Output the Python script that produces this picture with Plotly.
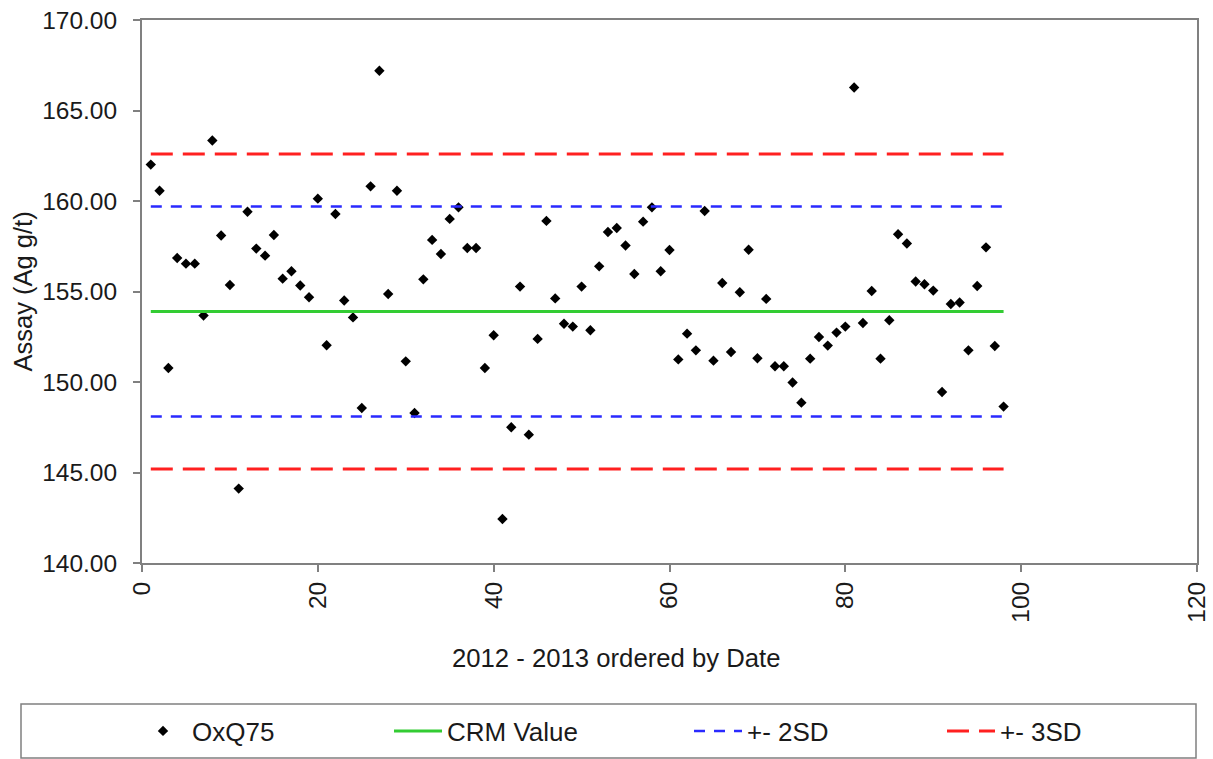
import plotly.graph_objects as go

# ---- data ----
sample_index = list(range(1, 99))
oxq75_values = [
    162.01, 160.57, 150.77, 156.85, 156.54, 156.54, 153.67, 163.34, 158.09, 155.36,
    144.11, 159.41, 157.37, 156.98, 158.12, 155.71, 156.12, 155.33, 154.68, 160.13,
    152.03, 159.28, 154.50, 153.57, 148.56, 160.81, 167.20, 154.86, 160.57, 151.14,
    148.29, 155.67, 157.85, 157.07, 159.01, 159.65, 157.40, 157.40, 150.77, 152.58,
    142.43, 147.50, 155.27, 147.09, 152.38, 158.90, 154.62, 153.22, 153.06, 155.27,
    152.86, 156.39, 158.29, 158.51, 157.54, 155.97, 158.86, 159.65, 156.12, 157.29,
    151.25, 152.67, 151.75, 159.45, 151.18, 155.47, 151.66, 154.96, 157.31, 151.31,
    154.59, 150.87, 150.87, 149.97, 148.86, 151.29, 152.49, 152.01, 152.73, 153.06,
    166.27, 153.26, 155.03, 151.29, 153.41, 158.16, 157.65, 155.55, 155.40, 155.05,
    149.45, 154.31, 154.39, 151.75, 155.30, 157.44, 151.99, 148.64,
]
crm_value = 153.9
sd = 2.9
line_x = [1, 98]
x_ticks = [0, 20, 40, 60, 80, 100, 120]
y_ticks = [140, 145, 150, 155, 160, 165, 170]

FONT = "Liberation Sans, Arial, sans-serif"
GREY = "#808080"
TXT = "#1a1a1a"

fig = go.Figure()

fig.add_trace(go.Scatter(
    x=sample_index, y=oxq75_values, mode="markers", name="OxQ75",
    marker=dict(symbol="diamond", size=8, color="black"),
    legendwidth=192,
))
fig.add_trace(go.Scatter(
    x=line_x, y=[crm_value, crm_value], mode="lines", name="CRM Value",
    line=dict(color="#33CC33", width=3),
    legendwidth=237,
))
fig.add_trace(go.Scatter(
    x=line_x, y=[crm_value + 2 * sd] * 2, mode="lines", name="+- 2SD",
    line=dict(color="#2A2AFF", width=2.5, dash="11px,9px"),
    legendgroup="2sd", legendwidth=190,
))
fig.add_trace(go.Scatter(
    x=line_x, y=[crm_value - 2 * sd] * 2, mode="lines", name="+- 2SD",
    line=dict(color="#2A2AFF", width=2.5, dash="11px,9px"),
    legendgroup="2sd", showlegend=False,
))
fig.add_trace(go.Scatter(
    x=line_x, y=[crm_value + 3 * sd] * 2, mode="lines", name="+- 3SD",
    line=dict(color="#FF2020", width=3, dash="22px,10px"),
    legendgroup="3sd", legendwidth=130,
))
fig.add_trace(go.Scatter(
    x=line_x, y=[crm_value - 3 * sd] * 2, mode="lines", name="+- 3SD",
    line=dict(color="#FF2020", width=3, dash="22px,10px"),
    legendgroup="3sd", showlegend=False,
))

W, H = 1213, 759
ml, mr, mt, mb = 142, 16, 20, 196
pw = W - ml - mr
ph = H - mt - mb

def px_x(px):
    return (px - ml) / pw

def px_y(py):
    return (H - mb - py) / ph

fig.update_layout(
    width=W, height=H,
    margin=dict(l=ml, r=mr, t=mt, b=mb, autoexpand=False),
    paper_bgcolor="white", plot_bgcolor="white",
    font=dict(family=FONT, size=24, color=TXT),
    showlegend=True,
    legend=dict(
        orientation="h", x=px_x(134), xanchor="left",
        y=px_y(731), yanchor="middle",
        bgcolor="rgba(0,0,0,0)", borderwidth=0, itemwidth=48,
        font=dict(family=FONT, size=26, color=TXT),
        traceorder="normal",
    ),
    xaxis=dict(
        range=[0, 120], tickvals=x_ticks, tickangle=-90,
        showline=True, linecolor=GREY, linewidth=2, mirror=True,
        ticks="outside", ticklen=7, tickcolor=GREY, tickwidth=1.5,
        showgrid=False, zeroline=False, automargin=False,
        tickfont=dict(family=FONT, size=24.5, color=TXT),
    ),
    yaxis=dict(
        range=[140, 170], tickvals=y_ticks, tickformat=".2f",
        showline=True, linecolor=GREY, linewidth=2, mirror=True,
        ticks="outside", ticklen=7, tickcolor=GREY, tickwidth=1.5,
        showgrid=False, zeroline=False, automargin=False,
        ticklabelstandoff=11,
        tickfont=dict(family=FONT, size=24.5, color=TXT),
    ),
    shapes=[dict(
        type="rect", xref="paper", yref="paper",
        x0=px_x(21), x1=px_x(1196), y0=px_y(758), y1=px_y(704),
        line=dict(color=GREY, width=1.5), fillcolor="rgba(0,0,0,0)",
        layer="below",
    )],
    annotations=[
        dict(text="Assay (Ag g/t)", xref="paper", yref="paper",
             x=px_x(22), y=0.5, textangle=-90, showarrow=False,
             xanchor="center", yanchor="middle",
             font=dict(family=FONT, size=25.5, color=TXT)),
        dict(text="2012 - 2013 ordered by Date", xref="paper", yref="paper",
             x=px_x(616), y=px_y(658), showarrow=False,
             xanchor="center", yanchor="middle",
             font=dict(family=FONT, size=25.7, color=TXT)),
    ],
)

fig.write_html("out.html", config={"displayModeBar": False})

# remove the browser's default page margin so the figure sits at (0, 0)
with open("out.html", "r", encoding="utf-8") as f:
    html = f.read()
html = html.replace(
    "<head>",
    "<head><style>html,body{margin:0;padding:0;overflow:hidden;}</style>",
    1,
)
with open("out.html", "w", encoding="utf-8") as f:
    f.write(html)
